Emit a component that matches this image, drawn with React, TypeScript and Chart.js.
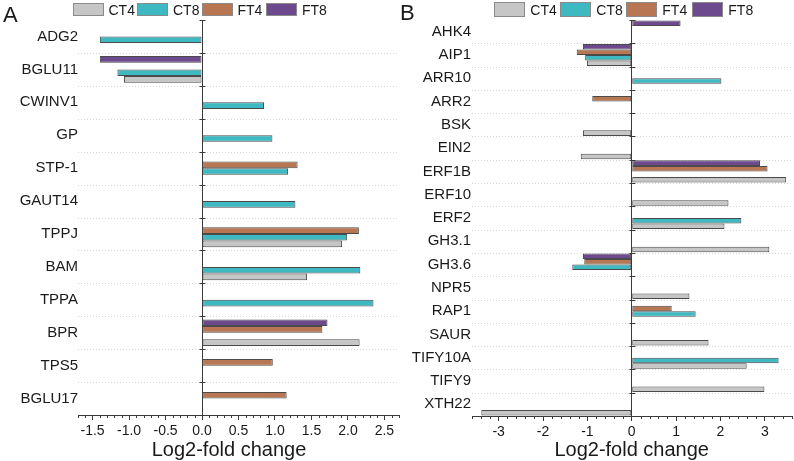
import React, { useEffect, useRef } from 'react';
import { Chart, registerables } from 'chart.js';

Chart.register(...registerables);

const SERIES = ['CT4', 'CT8', 'FT4', 'FT8'];
const COLORS = ['#c6c6c6', '#3fb9c1', '#b87752', '#6c4a8d'];
const AXIS_TITLE = 'Log2-fold change';

const genesA = ['ADG2', 'BGLU11', 'CWINV1', 'GP', 'STP-1', 'GAUT14', 'TPPJ', 'BAM', 'TPPA', 'BPR', 'TPS5', 'BGLU17'];
const ct4A = [null, -1.07, null, null, null, null, 1.92, 1.44, null, 2.16, null, null];
const ct8A = [-1.4, -1.16, 0.85, 0.965, 1.18, 1.28, 1.99, 2.17, 2.35, null, null, null];
const ft4A = [null, null, null, null, 1.31, null, 2.15, null, null, 1.65, 0.97, 1.16];
const ft8A = [null, -1.4, null, null, null, null, null, null, null, 1.72, null, null];

const genesB = ['AHK4', 'AIP1', 'ARR10', 'ARR2', 'BSK', 'EIN2', 'ERF1B', 'ERF10', 'ERF2', 'GH3.1', 'GH3.6', 'NPR5', 'RAP1', 'SAUR', 'TIFY10A', 'TIFY9', 'XTH22'];
const ct4B = [null, -1.01, null, null, -1.1, -1.15, 3.48, 2.18, 2.09, 3.1, null, 1.3, null, 1.73, 2.59, 2.99, -3.39];
const ct8B = [null, -1.05, 2.02, null, null, null, null, null, 2.47, null, -1.34, null, 1.44, null, 3.31, null, null];
const ft4B = [null, -1.24, null, -0.89, null, null, 3.06, null, null, null, -1.07, null, 0.9, null, null, null, null];
const ft8B = [1.1, -1.1, null, null, null, null, 2.89, null, null, null, -1.1, null, null, null, null, null, null];

const FONT = '"Liberation Sans", Arial, Helvetica, sans-serif';
const INK = '#1a1a1a';
const AXIS = '#3a3a3a';

const decorPlugin = {
  id: 'decor',
  beforeDatasetsDraw(chart: any) {
    const y = chart.scales.y;
    const area = chart.chartArea;
    const ctx = chart.ctx;
    const count = chart.data.labels.length;
    const h = (y.bottom - y.top) / count;
    ctx.save();
    ctx.strokeStyle = '#d6d6d6';
    ctx.lineWidth = 1;
    ctx.setLineDash([1, 2]);
    ctx.beginPath();
    for (let i = 1; i < count; i++) {
      const py = Math.round(y.top + i * h) + 0.5;
      ctx.moveTo(area.left, py);
      ctx.lineTo(area.right, py);
    }
    ctx.stroke();
    ctx.restore();
  },
  afterDatasetsDraw(chart: any, _args: any, opts: any) {
    const x = chart.scales.x;
    const y = chart.scales.y;
    const ctx = chart.ctx;
    ctx.save();
    ctx.strokeStyle = AXIS;
    ctx.lineWidth = 1;
    ctx.beginPath();
    const n0 = Math.ceil(x.min / opts.minor - 1e-9);
    const n1 = Math.floor(x.max / opts.minor + 1e-9);
    for (let i = n0; i <= n1; i++) {
      const v = i * opts.minor;
      const r = v / opts.major;
      if (Math.abs(r - Math.round(r)) < 1e-6) continue;
      const px = Math.round(x.getPixelForValue(v)) + 0.5;
      ctx.moveTo(px, x.top);
      ctx.lineTo(px, x.top + 3);
    }
    const zx = Math.round(x.getPixelForValue(0)) + 0.5;
    const count = chart.data.labels.length;
    const h = (y.bottom - y.top) / count;
    for (let i = 0; i <= count; i++) {
      const py = Math.round(y.top + i * h) + 0.5;
      ctx.moveTo(zx - 3, py);
      ctx.lineTo(zx + 3, py);
    }
    ctx.stroke();
    ctx.restore();
  },
};

type PanelProps = {
  genes: string[];
  ct4: (number | null)[];
  ct8: (number | null)[];
  ft4: (number | null)[];
  ft8: (number | null)[];
  min: number;
  max: number;
  major: number;
  minor: number;
  decimals: number;
  width: number;
  left: number;
  yWidth: number;
  yPad: number;
  xHeight: number;
  padRight: number;
  catPct: number;
};

function Panel(p: PanelProps) {
  const ref = useRef<HTMLCanvasElement>(null);
  useEffect(() => {
    if (!ref.current) return;
    const order = [3, 2, 1, 0];
    const values = [p.ct4, p.ct8, p.ft4, p.ft8];
    const chart = new Chart(ref.current, {
      type: 'bar',
      data: {
        labels: p.genes,
        datasets: order.map((i) => ({
          label: SERIES[i],
          data: values[i] as any,
          backgroundColor: COLORS[i],
          borderColor: '#4a4a4a',
          borderWidth: 1,
          borderSkipped: false,
          categoryPercentage: p.catPct,
          barPercentage: 1,
        })),
      },
      options: {
        indexAxis: 'y',
        animation: false,
        responsive: false,
        maintainAspectRatio: false,
        layout: { padding: { top: 20, left: 0, right: p.padRight, bottom: 0 } },
        plugins: {
          legend: { display: false },
          tooltip: { enabled: false },
          decor: { minor: p.minor, major: p.major },
        } as any,
        scales: {
          x: {
            type: 'linear',
            min: p.min,
            max: p.max,
            afterFit: (s: any) => {
              s.height = p.xHeight;
            },
            ticks: {
              stepSize: p.major,
              includeBounds: false,
              color: INK,
              padding: 3,
              font: { family: FONT, size: 14 },
              callback: (v: any) => Number(v).toFixed(p.decimals),
            },
            grid: {
              color: (c: any) => (c.tick && Math.abs(c.tick.value) < 1e-9 ? AXIS : 'rgba(0,0,0,0)'),
              tickColor: AXIS,
              tickLength: 5,
              lineWidth: 1,
            },
            border: { display: true, color: AXIS, width: 1 },
          },
          y: {
            type: 'category',
            offset: true,
            afterFit: (s: any) => {
              s.width = p.yWidth;
            },
            ticks: {
              autoSkip: false,
              color: INK,
              padding: p.yPad,
              font: { family: FONT, size: 15 },
            },
            grid: { display: false, drawTicks: false, tickLength: 0 },
            border: { display: false },
          },
        },
      } as any,
      plugins: [decorPlugin as any],
    });
    return () => chart.destroy();
  }, []);
  return (
    <canvas
      ref={ref}
      width={p.width}
      height={461}
      style={{ position: 'absolute', left: p.left, top: 0, width: p.width, height: 461, display: 'block' }}
    />
  );
}

function Legend({ left, pitch, top, boxH }: { left: number; pitch: number; top: number; boxH: number }) {
  return (
    <>
      {SERIES.map((s, i) => (
        <div
          key={s}
          style={{
            position: 'absolute',
            left: left + i * pitch,
            top,
            height: boxH,
            display: 'flex',
            alignItems: 'center',
            whiteSpace: 'nowrap',
          }}
        >
          <span
            style={{
              display: 'inline-block',
              width: 31,
              height: boxH,
              boxSizing: 'border-box',
              background: COLORS[i],
              border: '1px solid #8a8a8a',
            }}
          />
          <span style={{ marginLeft: 5, fontSize: 14, lineHeight: '14px', color: INK }}>{s}</span>
        </div>
      ))}
    </>
  );
}

export default function App() {
  return (
    <div
      style={{
        position: 'fixed',
        left: 0,
        top: 0,
        width: 794,
        height: 461,
        background: '#ffffff',
        fontFamily: FONT,
        color: INK,
        overflow: 'hidden',
      }}
    >
      <Panel
        genes={genesA}
        ct4={ct4A}
        ct8={ct8A}
        ft4={ft4A}
        ft8={ft8A}
        min={-1.7}
        max={2.7}
        major={0.5}
        minor={0.1}
        decimals={1}
        width={400}
        left={0}
        yWidth={78}
        yPad={0}
        xHeight={46}
        padRight={1}
        catPct={0.81}
      />
      <Panel
        genes={genesB}
        ct4={ct4B}
        ct8={ct8B}
        ft4={ft4B}
        ft8={ft8B}
        min={-3.6}
        max={3.6}
        major={1}
        minor={0.2}
        decimals={0}
        width={394}
        left={400}
        yWidth={72}
        yPad={1}
        xHeight={45}
        padRight={2.5}
        catPct={0.95}
      />
      <Legend left={72.5} pitch={64.5} top={3} boxH={13} />
      <Legend left={494.3} pitch={66} top={2} boxH={15} />
      <div style={{ position: 'absolute', left: 3, top: 4, fontSize: 22, lineHeight: '22px' }}>A</div>
      <div style={{ position: 'absolute', left: 400, top: 2, fontSize: 22, lineHeight: '22px' }}>B</div>
      <div
        style={{
          position: 'absolute',
          left: 229,
          top: 439,
          fontSize: 20,
          lineHeight: '20px',
          transform: 'translateX(-50%)',
          whiteSpace: 'nowrap',
        }}
      >
        {AXIS_TITLE}
      </div>
      <div
        style={{
          position: 'absolute',
          left: 631.7,
          top: 439,
          fontSize: 20,
          lineHeight: '20px',
          transform: 'translateX(-50%)',
          whiteSpace: 'nowrap',
        }}
      >
        {AXIS_TITLE}
      </div>
    </div>
  );
}
